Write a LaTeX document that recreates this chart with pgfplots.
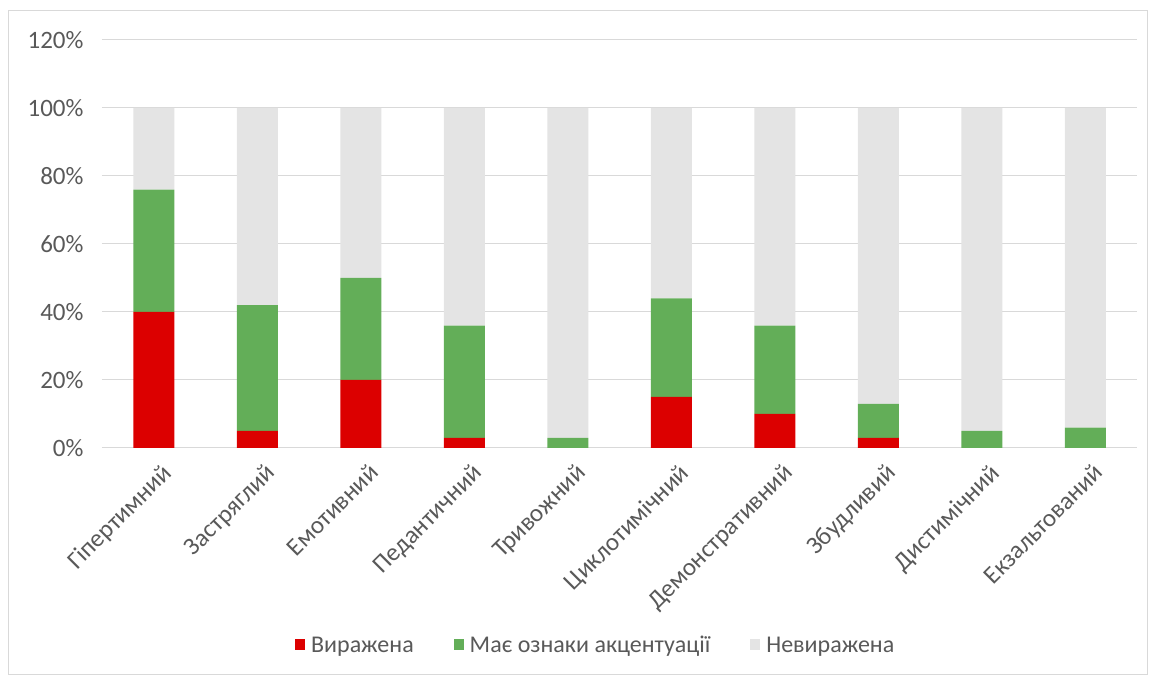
\documentclass[border=0pt]{standalone}
\usepackage{fontspec}
\setmainfont{Carlito}
\usepackage{pgfplots}
\pgfplotsset{compat=1.18}
\definecolor{cred}{HTML}{DC0000}
\definecolor{cgreen}{HTML}{63AE58}
\definecolor{cgrey}{HTML}{E4E4E4}
\definecolor{cgrid}{HTML}{D9D9D9}
\definecolor{ctext}{HTML}{595959}
\begin{document}
\begin{tikzpicture}[x=1pt,y=1pt]
\useasboundingbox (0,0) rectangle (1152,679);
\draw[cgrid, line width=1pt] (8,4) rectangle (1147,668);
\begin{axis}[
  at={(102pt,231pt)}, anchor=south west,
  scale only axis, width=1035pt, height=408pt,
  ybar stacked, bar width=41pt,
  xmin=-0.5, xmax=9.5, ymin=0, ymax=120,
  xtick=data,
  xticklabels={Гіпертимний,Застряглий,Емотивний,Педантичний,Тривожний,Циклотимічний,Демонстративний,Збудливий,Дистимічний,Екзальтований},
  ytick={0,20,40,60,80,100,120},
  yticklabels={0\%,20\%,40\%,60\%,80\%,100\%,120\%},
  /pgf/number format/assume math mode=true,
  ymajorgrids, grid style={cgrid, line width=1pt},
  axis line style={draw=none},
  major tick length=0pt,
  tick label style={font=\fontsize{25}{28}\selectfont, text=ctext},
  yticklabel style={xshift=-15pt},
  xticklabel style={rotate=45, anchor=north east, inner sep=0pt, xshift=-5pt, yshift=-15pt},
  legend style={draw=none, fill=none, at={(0.477,-0.483)}, anchor=center,
    legend columns=3, font=\fontsize{24}{27}\selectfont, text=ctext,
    /tikz/every odd column/.append style={column sep=4pt},
    /tikz/every even column/.append style={column sep=38pt}},
  legend image code/.code={\fill[#1] (0pt,-5pt) rectangle (10pt,6pt);},
]
\addplot[fill=cred, draw=none] coordinates {(0,40) (1,5) (2,20) (3,3) (4,0) (5,15) (6,10) (7,3) (8,0) (9,0)};
\addlegendentry{Виражена}
\addplot[fill=cgreen, draw=none] coordinates {(0,36) (1,37) (2,30) (3,33) (4,3) (5,29) (6,26) (7,10) (8,5) (9,6)};
\addlegendentry{Має ознаки акцентуації}
\addplot[fill=cgrey, draw=none] coordinates {(0,24) (1,58) (2,50) (3,64) (4,97) (5,56) (6,64) (7,87) (8,95) (9,94)};
\addlegendentry{Невиражена}
\end{axis}
\end{tikzpicture}
\end{document}
